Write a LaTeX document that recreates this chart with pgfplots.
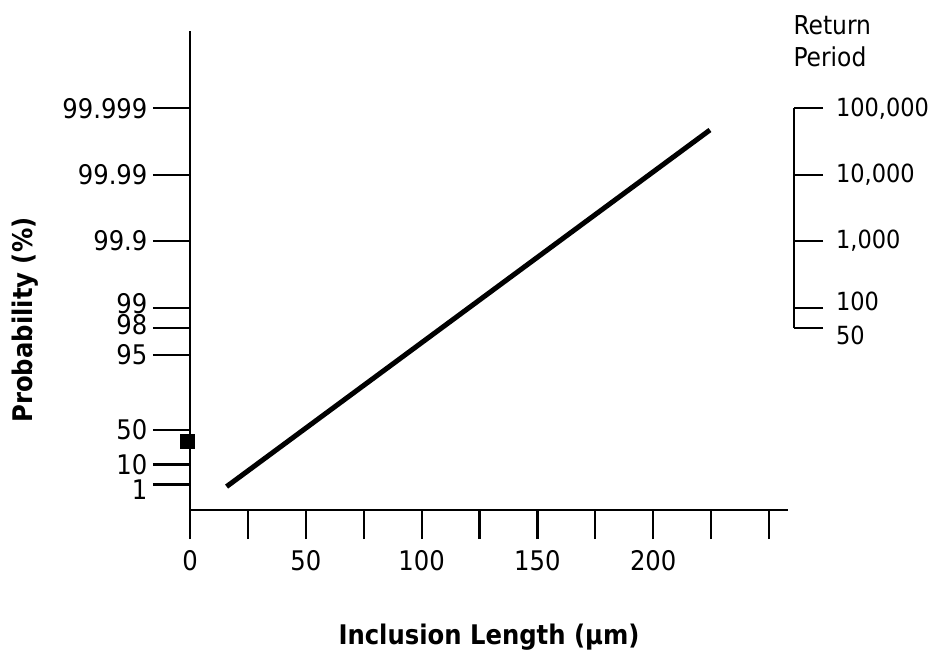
\documentclass[border=0pt]{standalone}
\usepackage{fontspec}
\setmainfont{DejaVu Sans Condensed}
\usepackage{pgfplots}
\pgfplotsset{compat=1.18}
\begin{document}
\begin{tikzpicture}
\begin{axis}[
  at={(0pt,0pt)}, anchor=south west,
  x=1.158pt, y=14.425pt,
  xmin=0, xmax=258.2, ymin=-2.412, ymax=14.19,
  axis x line=bottom, axis y line=left,
  axis line style={-, line width=1.1pt, black},
  clip=false,
  tick align=outside,
  every tick/.style={black, line width=1.1pt},
  tick label style={font=\fontsize{13.5}{15}\selectfont, black},
  xtick={25,50,...,250},
  xticklabels={,50,,100,,150,,200,,},
  xtick style={/pgfplots/major tick length=14.5pt},
  xticklabel style={yshift=-12.5pt},
  extra x ticks={0}, extra x tick labels={0},
  extra x tick style={/pgfplots/major tick length=8.5pt, xticklabel style={yshift=4.5pt}},
  ytick={-1.527,-0.834,0.3665,2.970,3.902,4.600,6.907,9.210,11.513},
  yticklabels={{\raisebox{-2.5pt}[\height][\depth]{1}},10,50,95,{\raisebox{1.4pt}[\height][\depth]{98}},{\raisebox{1.85pt}[\height][\depth]{99}},99.9,99.99,99.999},
  ytick style={/pgfplots/major tick length=18.5pt},
  yticklabel style={xshift=-13.5pt, inner ysep=0pt},
  minor tick num=0,
  xlabel={Inclusion Length (μm)},
  ylabel={Probability (\%)},
  xlabel style={at={(axis description cs:0.5,-0.265)}, anchor=center, font=\bfseries\fontsize{13.5}{16}\selectfont},
  ylabel style={at={(axis description cs:-0.276,0.3967)}, anchor=center, rotate=0, font=\bfseries\fontsize{13.5}{16}\selectfont},
]
\addplot[black, line width=2.5pt] coordinates {(15.8,-1.60) (224.5,10.76)};
\addplot[only marks, mark=square*, mark size=3.5pt, black] coordinates {(-1,-0.02)};
\end{axis}
\begin{axis}[
  at={(0pt,91.08pt)}, anchor=south west,
  x=1.158pt, y=14.425pt,
  xmin=0, xmax=260.8, ymin=3.902, ymax=11.513,
  hide x axis,
  axis y line*=right,
  axis line style={-, line width=1.1pt, black},
  clip=false,
  tick align=outside,
  every tick/.style={black, line width=1.1pt},
  major tick length=14.5pt,
  tick label style={font=\fontsize{12.5}{15}\selectfont, black},
  yticklabel style={xshift=3pt, inner ysep=0pt},
  ytick={3.902,4.600,6.907,9.210,11.513},
  yticklabels={{\raisebox{-4pt}[\height][\depth]{50}},{\raisebox{3pt}[\height][\depth]{100}},{1,000},{10,000},{100,000}},
]
\node[anchor=west, align=left, inner sep=0pt, font=\fontsize{13}{16}\selectfont] at (axis cs:260.4,13.84) {Return\\Period};
\end{axis}
\pgfresetboundingbox
\useasboundingbox (-95pt,-69.5pt) rectangle (371pt,255pt);
\end{tikzpicture}
\end{document}
